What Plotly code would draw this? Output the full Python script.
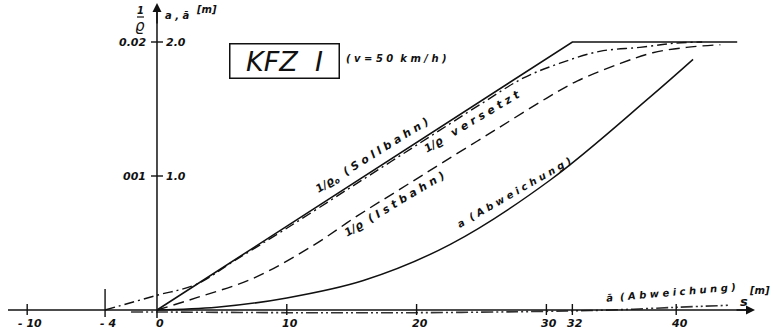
import plotly.graph_objects as go

# --- curve data: s in metres, ordinate in m (1/rho scaled so 2.0 <-> 0.02) ---
s_soll = [0, 32, 44.7]
soll = [0.0, 2.0, 2.0]

s_vers = [-4, 0, 3, 6, 10, 15, 20, 25, 28.2, 31, 34.1, 37.2, 39.8, 42]
vers = [0.0, 0.11, 0.19, 0.37, 0.61, 0.92, 1.23, 1.54, 1.73, 1.84, 1.93, 1.96, 1.99, 2.0]

s_ist = [0, 3, 7.5, 12, 15.4, 18.7, 22, 26, 30, 32.4, 35.7, 38.2, 40.8, 43.4]
ist = [0.0, 0.09, 0.24, 0.48, 0.70, 0.90, 1.10, 1.34, 1.58, 1.71, 1.84, 1.92, 1.96, 1.98]

s_abw = [0, 4.6, 10, 15.9, 22.6, 30.3, 38, 41.3]
abw = [0.0, 0.02, 0.09, 0.22, 0.49, 0.97, 1.59, 1.87]

s_abw_bar = [-2, 0, 10, 20, 30, 35, 40, 44]
abw_bar = [-0.015, -0.015, -0.02, -0.02, -0.01, 0.0, 0.02, 0.035]

x_ticks = [-10, -4, 0, 10, 20, 30, 32, 40]
x_tick_labels = ["- 10", "- 4", "0", "10", "20", "30", "32", "40"]
y_ticks = [1.0, 2.0]
y_tick_left = ["001", "0.02"]
y_tick_right = ["1.0", "2.0"]

# axis extents (data units)
X_MIN, X_MAX = -12.095, 47.535
Y_MIN, Y_MAX = -0.1418, 2.3134
PX_X = (X_MAX - X_MIN) / 774.0
PX_Y = (Y_MAX - Y_MIN) / 329.0

INK = "#111111"
FONT = "DejaVu Sans"

fig = go.Figure()

line_kw = dict(mode="lines", hoverinfo="skip", showlegend=False)
fig.add_trace(go.Scatter(x=s_soll, y=soll, line=dict(color=INK, width=1.6), **line_kw))
fig.add_trace(go.Scatter(x=s_vers, y=vers, line=dict(color=INK, width=1.4, dash="10px,4px,2px,4px", shape="spline"), **line_kw))
fig.add_trace(go.Scatter(x=s_ist, y=ist, line=dict(color=INK, width=1.4, dash="11px,6px", shape="spline"), **line_kw))
fig.add_trace(go.Scatter(x=s_abw, y=abw, line=dict(color=INK, width=1.5, shape="spline"), **line_kw))
fig.add_trace(go.Scatter(x=s_abw_bar, y=abw_bar, line=dict(color="#333333", width=1.6, dash="12px,3px,2px,3px,2px,3px", shape="spline"), **line_kw))

shapes = []
# coordinate axes crossing at the origin
shapes.append(dict(type="line", x0=X_MIN + 8 * PX_X, x1=X_MIN + 748 * PX_X, y0=0, y1=0,
                   line=dict(color=INK, width=1.5)))
shapes.append(dict(type="line", x0=0, x1=0, y0=-8 * PX_Y, y1=Y_MAX - 8 * PX_Y,
                   line=dict(color=INK, width=1.5)))
# tick marks on the s axis
for t in x_ticks:
    if t == 0:
        continue
    up, down = (21, 7) if t == -4 else (6, 5)
    shapes.append(dict(type="line", x0=t, x1=t, y0=-down * PX_Y, y1=up * PX_Y,
                       line=dict(color=INK, width=1.4)))
# tick marks on the ordinate
for t in y_ticks:
    shapes.append(dict(type="line", x0=-6 * PX_X, x1=6 * PX_X, y0=t, y1=t,
                       line=dict(color=INK, width=1.4)))
# fraction bar of 1/rho in the axis heading
shapes.append(dict(type="line", x0=-20 * PX_X, x1=-13 * PX_X, y0=Y_MAX - 17 * PX_Y, y1=Y_MAX - 17 * PX_Y,
                   line=dict(color=INK, width=1.2)))

ann = []
tick_font = dict(family=FONT, size=11, color=INK)
for t, lab in zip(x_ticks, x_tick_labels):
    ann.append(dict(x=t + 3 * PX_X, y=-13 * PX_Y, text="<b><i>%s</i></b>" % lab, showarrow=False,
                    xanchor="center", yanchor="middle", font=tick_font))
for t, lab in zip(y_ticks, y_tick_left):
    ann.append(dict(x=-9 * PX_X, y=t, text="<b><i>%s</i></b>" % lab, showarrow=False,
                    xanchor="right", yanchor="middle", font=tick_font))
for t, lab in zip(y_ticks, y_tick_right):
    ann.append(dict(x=7 * PX_X, y=t, text="<b><i>%s</i></b>" % lab, showarrow=False,
                    xanchor="left", yanchor="middle", font=tick_font))

# axis arrows
ann.append(dict(x=X_MIN + 755 * PX_X, y=0, ax=X_MIN + 735 * PX_X, ay=0, xref="x", yref="y",
                axref="x", ayref="y", text="", showarrow=True, arrowhead=2, arrowsize=1.2,
                arrowwidth=1.5, arrowcolor=INK))
ann.append(dict(x=0, y=Y_MAX - 3 * PX_Y, ax=0, ay=Y_MAX - 25 * PX_Y, xref="x", yref="y",
                axref="x", ayref="y", text="", showarrow=True, arrowhead=2, arrowsize=1.2,
                arrowwidth=1.5, arrowcolor=INK))

# axis headings
ann.append(dict(x=-16.5 * PX_X, y=Y_MAX - 10 * PX_Y, text="<b><i>1</i></b>", showarrow=False,
                font=dict(family=FONT, size=10, color=INK)))
ann.append(dict(x=-16.5 * PX_X, y=Y_MAX - 26 * PX_Y, text="<i>ϱ</i>", showarrow=False,
                font=dict(family=FONT, size=15, color=INK)))
ann.append(dict(x=6 * PX_X, y=Y_MAX - 15 * PX_Y, text="<b><i>a , ā</i></b>", showarrow=False,
                xanchor="left", font=dict(family=FONT, size=10, color=INK)))
ann.append(dict(x=37 * PX_X, y=Y_MAX - 9 * PX_Y, text="<b><i>[m]</i></b>", showarrow=False,
                xanchor="left", font=dict(family=FONT, size=10, color=INK)))
ann.append(dict(x=X_MIN + 744 * PX_X, y=9 * PX_Y, text="<b><i>s</i></b>", showarrow=False,
                font=dict(family=FONT, size=13, color=INK)))
ann.append(dict(x=X_MIN + 772 * PX_X, y=20 * PX_Y, text="<b><i>[m]</i></b>", showarrow=False,
                xanchor="right", font=dict(family=FONT, size=10, color=INK)))

# title block
ann.append(dict(x=X_MIN + 284 * PX_X, y=Y_MAX - 61 * PX_Y, text="<i>KFZ  I</i>", showarrow=False,
                width=106, height=31, bordercolor=INK, borderwidth=1.5, borderpad=1,
                font=dict(family=FONT, size=27, color=INK)))
ann.append(dict(x=X_MIN + 344 * PX_X, y=Y_MAX - 58 * PX_Y,
                text="<b><i>( v = 5 0  k m / h )</i></b>", showarrow=False, xanchor="left",
                font=dict(family=FONT, size=10, color=INK)))

# curve labels
def curve_label(px, py, text, angle, size=11):
    ann.append(dict(x=X_MIN + px * PX_X, y=Y_MAX - py * PX_Y, text=text, showarrow=False,
                    textangle=angle, font=dict(family=FONT, size=size, color=INK)))

curve_label(372, 156, "<b><i>1/ϱ<sub>o</sub>  ( S o l l b a h n )</i></b>", -32)
curve_label(472, 121, "<b><i>1/ϱ   v e r s e t z t</i></b>", -31)
curve_label(394, 204, "<b><i>1/ϱ  ( I s t b a h n )</i></b>", -31)
curve_label(514, 192, "<b><i>a  ( A b w e i c h u n g )</i></b>", -30, 10)
curve_label(671, 292, "<b><i>ā  ( A b w e i c h u n g )</i></b>", -5, 10)

fig.update_layout(
    width=774, height=329,
    margin=dict(l=0, r=0, t=0, b=0),
    paper_bgcolor="white", plot_bgcolor="white",
    xaxis=dict(range=[X_MIN, X_MAX], visible=False, fixedrange=True),
    yaxis=dict(range=[Y_MIN, Y_MAX], visible=False, fixedrange=True),
    shapes=shapes, annotations=ann,
)

fig.write_html("out.html", config={"displayModeBar": False})
